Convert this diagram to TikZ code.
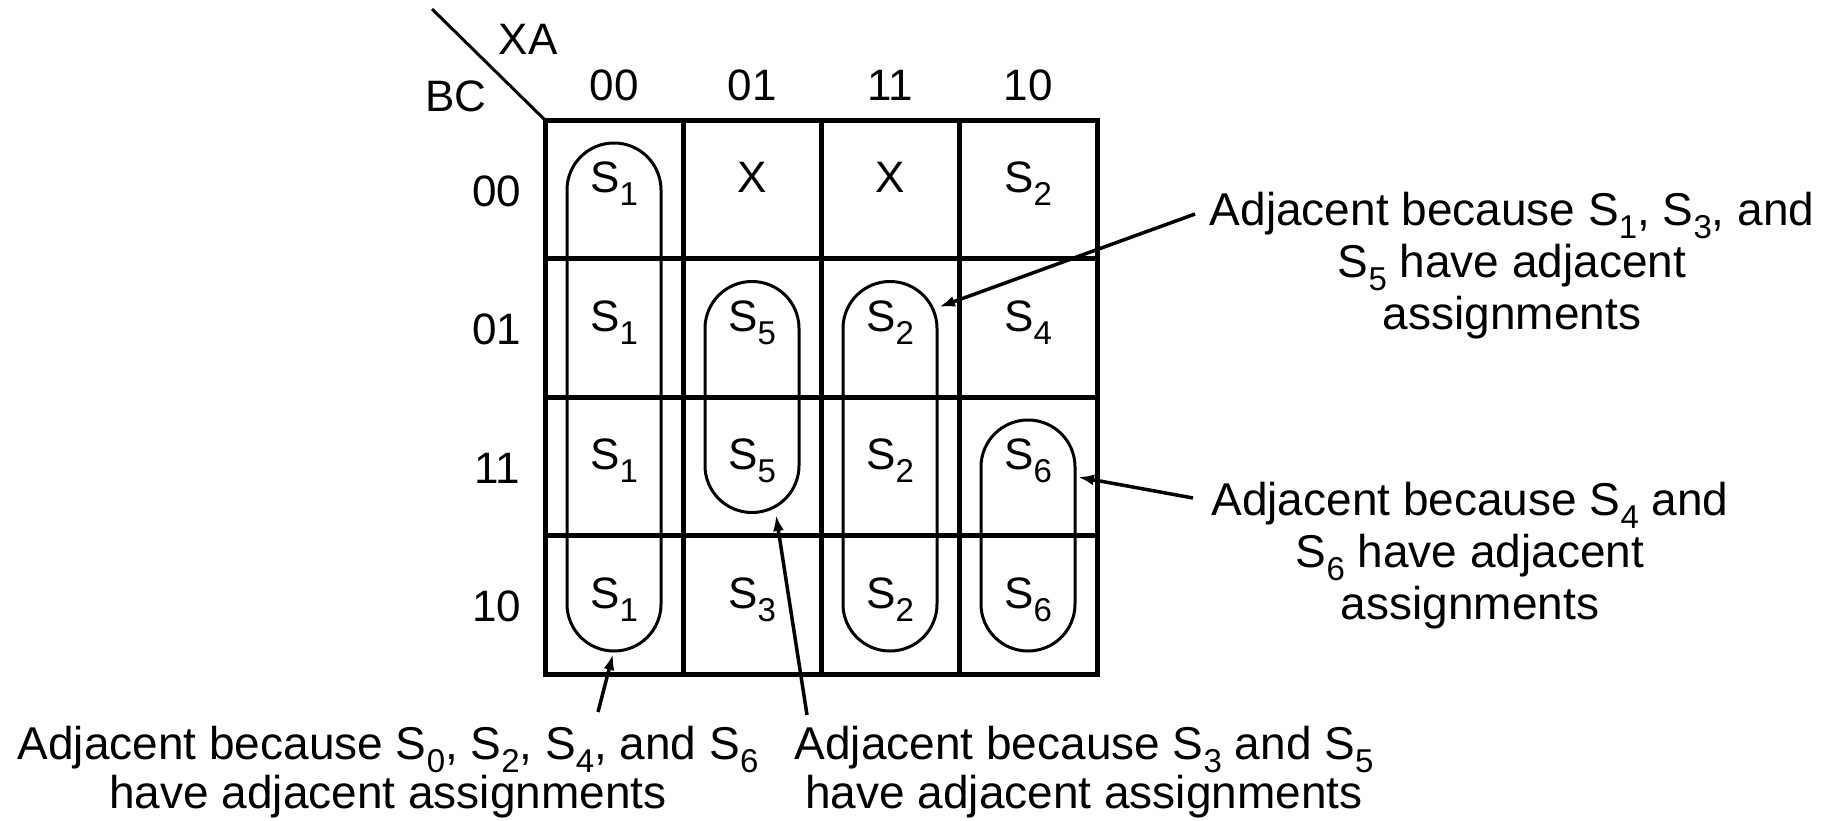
\documentclass[tikz,border=0pt]{standalone}
\usepackage{fontspec}
\setmainfont{Liberation Sans}
\usetikzlibrary{arrows.meta}
% lowered, smaller index after a state name
\newcommand{\sbs}[1]{\raisebox{-0.29em}[0pt][0pt]{\fontsize{33}{33}\selectfont #1}}

\begin{document}
\begin{tikzpicture}[x=1pt,y=-1pt,
  every node/.style={inner sep=0pt,outer sep=0pt},
  txt/.style={font=\fontsize{44}{50}\selectfont},
  cell/.style={txt,draw,line width=5pt,minimum width=138pt,minimum height=138.5pt,
               text height=0.9em,text depth=0.184em},
  hdr/.style={txt},
  ring/.style={draw,line width=3pt,rounded corners=46.9pt,minimum width=94pt},
  note/.style={font=\fontsize{46}{52}\selectfont,align=center,anchor=north},
  pointer/.style={line width=3.5pt,-{Latex[length=16pt,width=11pt]}}]

\useasboundingbox (0,0) rectangle (1833,820);

% Karnaugh map cells (columns XA = 00 01 11 10, rows BC = 00 01 11 10)
\node[cell] (c00) at (614,189.25) {S\sbs{1}};
\node[cell] (c01) at (752,189.25) {X};
\node[cell] (c02) at (890,189.25) {X};
\node[cell] (c03) at (1028,189.25) {S\sbs{2}};
\node[cell] (c10) at (614,327.75) {S\sbs{1}};
\node[cell] (c11) at (752,327.75) {S\sbs{5}};
\node[cell] (c12) at (890,327.75) {S\sbs{2}};
\node[cell] (c13) at (1028,327.75) {S\sbs{4}};
\node[cell] (c20) at (614,466.25) {S\sbs{1}};
\node[cell] (c21) at (752,466.25) {S\sbs{5}};
\node[cell] (c22) at (890,466.25) {S\sbs{2}};
\node[cell] (c23) at (1028,466.25) {S\sbs{6}};
\node[cell] (c30) at (614,604.75) {S\sbs{1}};
\node[cell] (c31) at (752,604.75) {S\sbs{3}};
\node[cell] (c32) at (890,604.75) {S\sbs{2}};
\node[cell] (c33) at (1028,604.75) {S\sbs{6}};

% corner label with its diagonal
\coordinate (diagtop) at (432,9);
\draw[line width=3pt] (diagtop) -- (c00.north west);
\node[hdr] (xa) at (528,39) {XA};
\node[hdr] (bc) at (456,96) {BC};

% column and row headings
\node[hdr] (h0) at (614,85) {00};
\node[hdr] (h1) at (752,85) {01};
\node[hdr] (h2) at (890,85) {11};
\node[hdr] (h3) at (1028,85) {10};
\node[hdr] (r0) at (497,191) {00};
\node[hdr] (r1) at (497,329) {01};
\node[hdr] (r2) at (497,468) {11};
\node[hdr] (r3) at (497,606) {10};

% groups of adjacent states
\node[ring,minimum height=508pt] (ga) at (614,397) {};
\node[ring,minimum height=231pt] (gb) at (752,397) {};
\node[ring,minimum height=369.5pt] (gc) at (890,466.25) {};
\node[ring,minimum height=231pt] (gd) at (1028,535.5) {};

% explanations
\node[note] (n1) at (1512,192) {Adjacent because S\sbs{1}, S\sbs{3}, and\\S\sbs{5} have adjacent\\assignments};
\node[note] (n2) at (1470,482) {Adjacent because S\sbs{4} and\\S\sbs{6} have adjacent\\assignments};
\node[note,font=\fontsize{46}{49}\selectfont] (n3) at (388,726) {Adjacent because S\sbs{0}, S\sbs{2}, S\sbs{4}, and S\sbs{6}\\have adjacent assignments};
\node[note,font=\fontsize{46}{49}\selectfont] (n4) at (1084,726) {Adjacent because S\sbs{3} and S\sbs{5}\\have adjacent assignments};

% pointers from the explanations to the groups
\coordinate (p1s) at (1195,214);
\coordinate (p1e) at (939,307);
\coordinate (p2s) at (1193,498);
\coordinate (p2e) at (1078,477);
\coordinate (p3s) at (598,712);
\coordinate (p3e) at (613,654);
\coordinate (p4s) at (807,715);
\coordinate (p4e) at (776,515);
\draw[pointer] (p1s) -- (p1e);
\draw[pointer] (p2s) -- (p2e);
\draw[pointer] (p3s) -- (p3e);
\draw[pointer] (p4s) -- (p4e);
\end{tikzpicture}
\end{document}
